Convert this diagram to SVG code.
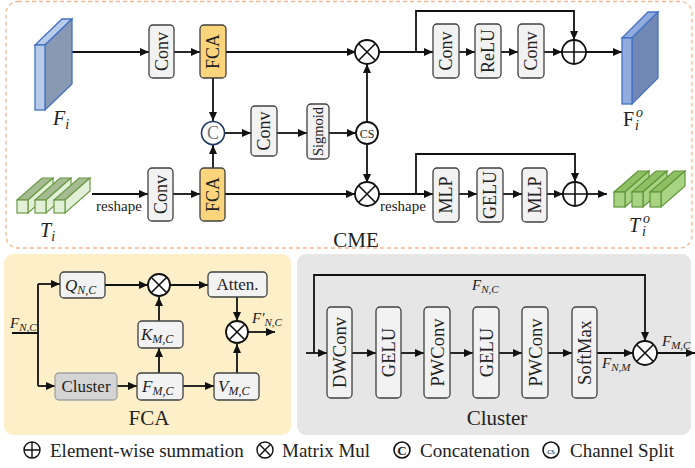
<svg xmlns="http://www.w3.org/2000/svg" width="695" height="468" viewBox="0 0 695 468" font-family="'Liberation Serif', 'Times New Roman', serif">
  <defs>
    <marker id="ah" viewBox="0 0 9 8" refX="9" refY="4" markerWidth="9" markerHeight="8" markerUnits="userSpaceOnUse" orient="auto">
      <path d="M0,0 L9,4 L0,8 z" fill="#111"/>
    </marker>
    <style>
      .t { font-family: "Liberation Serif", "Times New Roman", serif; fill: #222; }
      .i { font-style: italic; }
      .box { fill: #f2f2f2; stroke: #404040; stroke-width: 1.3; }
      .fca { fill: #fbd57c; stroke: #404040; stroke-width: 1.3; }
      .clu { fill: #d4d4d4; stroke: #a0a0a0; stroke-width: 1.3; }
      .ln { fill: none; stroke: #111; stroke-width: 1.8; }
      .ar { fill: none; stroke: #111; stroke-width: 1.8; marker-end: url(#ah); }
      .op { fill: #fff; stroke: #111; stroke-width: 1.8; }
      .opt { fill: none; stroke: #111; stroke-width: 1.6; }
      .vl { font-size: 18px; }
      .lg { font-size: 19px; }
    </style>
  </defs>

  <!-- panels -->
  <rect x="6" y="1.5" width="686" height="246.5" rx="12" fill="none" stroke="#f4b894" stroke-width="1.3" stroke-dasharray="4,3"/>
  <rect x="4" y="254" width="287" height="181" rx="9" fill="#fdf0c9"/>
  <rect x="297" y="254" width="394" height="181" rx="9" fill="#e6e6e6"/>

  <!-- connectors -->
  <g id="connectors">
    <!-- CME top row -->
    <path class="ar" d="M72,52 H149"/>
    <path class="ar" d="M174,52 H200"/>
    <path class="ar" d="M226,52 H356"/>
    <path class="ar" d="M213,78 V121"/>
    <path class="ar" d="M224,133 H251"/>
    <path class="ar" d="M277,133 H307"/>
    <path class="ar" d="M329,133 H356"/>
    <path class="ar" d="M367,122 V64"/>
    <path class="ar" d="M367,144 V183"/>
    <path class="ar" d="M379,52 H433"/>
    <path class="ar" d="M416,52 V11 H574 V40"/>
    <path class="ar" d="M459,52 H475"/>
    <path class="ar" d="M501,52 H518"/>
    <path class="ar" d="M544,52 H562"/>
    <path class="ar" d="M586,52 H622"/>
    <!-- CME bottom row -->
    <path class="ar" d="M92,194 H148"/>
    <path class="ar" d="M173,194 H200"/>
    <path class="ar" d="M213,168 V145"/>
    <path class="ar" d="M225,194 H355"/>
    <path class="ar" d="M378,194 H433"/>
    <path class="ar" d="M416,194 V154 H575 V182"/>
    <path class="ar" d="M459,194 H477"/>
    <path class="ar" d="M503,194 H522"/>
    <path class="ar" d="M547,194 H563"/>
    <path class="ar" d="M587,194 H607"/>
    <!-- FCA detail -->
    <path class="ln" d="M12,333 H38 M38,284 V386"/>
    <path class="ar" d="M38,284 H60"/>
    <path class="ar" d="M38,386 H55"/>
    <path class="ar" d="M105,285 H148"/>
    <path class="ar" d="M170,285 H208"/>
    <path class="ar" d="M159,321 V297"/>
    <path class="ar" d="M159,373 V348"/>
    <path class="ar" d="M117,386 H137"/>
    <path class="ar" d="M183,386 H214"/>
    <path class="ar" d="M237,297 V321"/>
    <path class="ar" d="M237,373 V344"/>
    <path class="ar" d="M248,332 H275"/>
    <!-- Cluster detail -->
    <path class="ar" d="M306,353 H327"/>
    <path class="ar" d="M314,353 V275 H645 V341"/>
    <path class="ar" d="M352,353 H376"/>
    <path class="ar" d="M401,353 H424"/>
    <path class="ar" d="M450,353 H473"/>
    <path class="ar" d="M499,353 H522"/>
    <path class="ar" d="M548,353 H572"/>
    <path class="ar" d="M597,353 H633"/>
    <path class="ar" d="M657,353 H695"/>
  </g>

  <!-- input feature map F_i -->
  <g id="Fi">
    <polygon points="35,45 62,19 72,19 45,45" fill="#b8cbe9" stroke="#4472c4" stroke-width="1.3"/>
    <polygon points="45,45 72,19 72,84 45,110" fill="#8899b4" stroke="#4472c4" stroke-width="1.3"/>
    <rect x="35" y="45" width="10" height="65" fill="#b8cbe9" stroke="#4472c4" stroke-width="1.3"/>
    <text class="t i" x="53" y="125" font-size="20">F<tspan font-size="14" dy="4">i</tspan></text>
  </g>

  <!-- output feature map F_i^o -->
  <g id="Fo">
    <polygon points="622,38 648,12 658,12 632,38" fill="#90abdc" stroke="#4472c4" stroke-width="1.3"/>
    <polygon points="632,38 658,12 658,78 632,104" fill="#7188b4" stroke="#4472c4" stroke-width="1.3"/>
    <rect x="622" y="38" width="10" height="66" fill="#90abdc" stroke="#4472c4" stroke-width="1.3"/>
    <text class="t" x="623" y="126" font-size="20">F</text>
    <text class="t i" x="635" y="130" font-size="14">i</text>
    <text class="t i" x="636" y="117" font-size="14">o</text>
  </g>

  <!-- input tokens T_i -->
  <g id="Ti" stroke="#6b9a45" stroke-width="1.2">
    <polygon points="17,200 42,178 53,178 28,200" fill="#a7bb92"/>
    <polygon points="28,200 53,178 53,191 28,213" fill="#e3f0d8"/>
    <rect x="17" y="200" width="11" height="13" fill="#e3f0d8"/>
    <polygon points="35,200 60,178 71,178 46,200" fill="#a7bb92"/>
    <polygon points="46,200 71,178 71,191 46,213" fill="#e3f0d8"/>
    <rect x="35" y="200" width="11" height="13" fill="#e3f0d8"/>
    <polygon points="54,200 79,178 90,178 65,200" fill="#a7bb92"/>
    <polygon points="65,200 90,178 90,191 65,213" fill="#e3f0d8"/>
    <rect x="54" y="200" width="11" height="13" fill="#e3f0d8"/>
    <text class="t i" x="40" y="237" font-size="20" stroke="none">T<tspan font-size="14" dy="4">i</tspan></text>
  </g>
  <text class="t" x="96" y="211" font-size="15">reshape</text>

  <!-- output tokens T_i^o -->
  <g id="To" stroke="#5e9638" stroke-width="1.2">
    <polygon points="614,192 638,171 649,171 625,192" fill="#8fbf64"/>
    <polygon points="625,192 649,171 649,186 625,207" fill="#a8d383"/>
    <rect x="614" y="192" width="11" height="15" fill="#a8d383"/>
    <polygon points="632,192 656,171 667,171 643,192" fill="#8fbf64"/>
    <polygon points="643,192 667,171 667,186 643,207" fill="#a8d383"/>
    <rect x="632" y="192" width="11" height="15" fill="#a8d383"/>
    <polygon points="650,192 674,171 685,171 661,192" fill="#8fbf64"/>
    <polygon points="661,192 685,171 685,186 661,207" fill="#a8d383"/>
    <rect x="650" y="192" width="11" height="15" fill="#a8d383"/>
  </g>
  <text class="t i" x="629" y="232" font-size="20">T</text>
  <text class="t i" x="642" y="236" font-size="14">i</text>
  <text class="t i" x="643" y="223" font-size="14">o</text>

  <!-- CME blocks -->
  <g id="conv1"><rect class="box" x="149" y="25" width="25" height="53" rx="4"/><text class="t vl" transform="translate(161.5,51.5) rotate(-90)" text-anchor="middle" dy="6">Conv</text></g>
  <g id="fca1"><rect class="fca" x="200" y="25" width="26" height="53" rx="4"/><text class="t vl" transform="translate(213,51.5) rotate(-90)" text-anchor="middle" dy="6">FCA</text></g>
  <g id="concat"><circle cx="213" cy="133" r="11.5" fill="#fff" stroke="#1f3864" stroke-width="1.6"/><text class="t" x="213" y="139" font-size="18" text-anchor="middle" style="fill:#777">C</text></g>
  <g id="conv2"><rect class="box" x="251" y="106" width="26" height="50" rx="4"/><text class="t vl" transform="translate(264,131) rotate(-90)" text-anchor="middle" dy="6">Conv</text></g>
  <g id="sigmoid"><rect class="box" x="307" y="104" width="22" height="55" rx="4"/><text class="t" font-size="14.5" transform="translate(318,131.5) rotate(-90)" text-anchor="middle" dy="5">Sigmoid</text></g>
  <g id="split"><circle class="op" cx="367" cy="133" r="11"/><text class="t" x="367" y="137.5" font-size="12" text-anchor="middle">CS</text></g>
  <g id="mul1"><circle class="op" cx="367" cy="52" r="12"/><path class="opt" d="M358.5,43.5 L375.5,60.5 M375.5,43.5 L358.5,60.5"/></g>
  <g id="conv3"><rect class="box" x="433" y="24" width="26" height="54" rx="4"/><text class="t vl" transform="translate(446,51) rotate(-90)" text-anchor="middle" dy="6">Conv</text></g>
  <g id="relu"><rect class="box" x="475" y="24" width="26" height="54" rx="4"/><text class="t vl" transform="translate(488,51) rotate(-90)" text-anchor="middle" dy="6">ReLU</text></g>
  <g id="conv4"><rect class="box" x="518" y="24" width="26" height="54" rx="4"/><text class="t vl" transform="translate(531,51) rotate(-90)" text-anchor="middle" dy="6">Conv</text></g>
  <g id="add1"><circle class="op" cx="574" cy="52" r="12"/><path class="opt" d="M562,52 H586 M574,40 V64"/></g>

  <g id="conv5"><rect class="box" x="148" y="168" width="25" height="53" rx="4"/><text class="t vl" transform="translate(160.5,194.5) rotate(-90)" text-anchor="middle" dy="6">Conv</text></g>
  <g id="fca2"><rect class="fca" x="200" y="168" width="25" height="53" rx="4"/><text class="t vl" transform="translate(212.5,194.5) rotate(-90)" text-anchor="middle" dy="6">FCA</text></g>
  <g id="mul2"><circle class="op" cx="367" cy="194" r="12"/><path class="opt" d="M358.5,185.5 L375.5,202.5 M375.5,185.5 L358.5,202.5"/></g>
  <text class="t" x="380" y="211" font-size="15">reshape</text>
  <g id="mlp1"><rect class="box" x="433" y="168" width="26" height="54" rx="4"/><text class="t vl" transform="translate(446,195) rotate(-90)" text-anchor="middle" dy="6">MLP</text></g>
  <g id="gelu1"><rect class="box" x="477" y="168" width="26" height="54" rx="4"/><text class="t vl" transform="translate(490,195) rotate(-90)" text-anchor="middle" dy="6">GELU</text></g>
  <g id="mlp2"><rect class="box" x="522" y="168" width="25" height="54" rx="4"/><text class="t vl" transform="translate(534.5,195) rotate(-90)" text-anchor="middle" dy="6">MLP</text></g>
  <g id="add2"><circle class="op" cx="575" cy="194" r="12"/><path class="opt" d="M563,194 H587 M575,182 V206"/></g>

  <text class="t" x="356" y="247" font-size="21" text-anchor="middle">CME</text>

  <!-- FCA detail -->
  <text class="t i" x="10" y="328" font-size="15">F<tspan font-size="11" dy="3">N,C</tspan></text>
  <g id="q"><rect class="box" x="60" y="272" width="45" height="26" rx="4"/><text class="t i" x="65" y="291" font-size="17">Q<tspan font-size="12" dy="3">N,C</tspan></text></g>
  <g id="mul3"><circle class="op" cx="159" cy="285" r="11"/><path class="opt" d="M151.2,277.2 L166.8,292.8 M166.8,277.2 L151.2,292.8"/></g>
  <g id="atten"><rect class="box" x="208" y="272" width="59" height="25" rx="4"/><text class="t" x="237.5" y="290" font-size="17" text-anchor="middle">Atten.</text></g>
  <g id="k"><rect class="box" x="138" y="321" width="45" height="27" rx="4"/><text class="t i" x="141" y="340" font-size="17">K<tspan font-size="12" dy="3">M,C</tspan></text></g>
  <g id="mul4"><circle class="op" cx="237" cy="332" r="11"/><path class="opt" d="M229.2,324.2 L244.8,339.8 M244.8,324.2 L229.2,339.8"/></g>
  <text class="t i" x="252" y="323" font-size="15">F′<tspan font-size="11" dy="3">N,C</tspan></text>
  <g id="cluster-box"><rect class="clu" x="55" y="373" width="62" height="27" rx="4"/><text class="t" x="86" y="392" font-size="17" text-anchor="middle">Cluster</text></g>
  <g id="fmc"><rect class="box" x="137" y="373" width="46" height="27" rx="4"/><text class="t i" x="142" y="392" font-size="17">F<tspan font-size="12" dy="3">M,C</tspan></text></g>
  <g id="v"><rect class="box" x="214" y="373" width="45" height="27" rx="4"/><text class="t i" x="218" y="392" font-size="17">V<tspan font-size="12" dy="3">M,C</tspan></text></g>
  <text class="t" x="149" y="425" font-size="21" text-anchor="middle">FCA</text>

  <!-- Cluster detail -->
  <text class="t i" x="472" y="290" font-size="15">F<tspan font-size="11" dy="3">N,C</tspan></text>
  <g id="dwconv"><rect class="box" x="327" y="307" width="25" height="91" rx="4"/><text class="t" font-size="18.5" transform="translate(339.5,352.5) rotate(-90)" text-anchor="middle" dy="6.5">DWConv</text></g>
  <g id="gelu2"><rect class="box" x="376" y="307" width="25" height="91" rx="4"/><text class="t" font-size="18.5" transform="translate(388.5,352.5) rotate(-90)" text-anchor="middle" dy="6.5">GELU</text></g>
  <g id="pwconv1"><rect class="box" x="424" y="307" width="26" height="91" rx="4"/><text class="t" font-size="18.5" transform="translate(437,352.5) rotate(-90)" text-anchor="middle" dy="6.5">PWConv</text></g>
  <g id="gelu3"><rect class="box" x="473" y="307" width="26" height="91" rx="4"/><text class="t" font-size="18.5" transform="translate(486,352.5) rotate(-90)" text-anchor="middle" dy="6.5">GELU</text></g>
  <g id="pwconv2"><rect class="box" x="522" y="307" width="26" height="91" rx="4"/><text class="t" font-size="18.5" transform="translate(535,352.5) rotate(-90)" text-anchor="middle" dy="6.5">PWConv</text></g>
  <g id="softmax"><rect class="box" x="572" y="307" width="25" height="91" rx="4"/><text class="t" font-size="18.5" transform="translate(584.5,352.5) rotate(-90)" text-anchor="middle" dy="6.5">SoftMax</text></g>
  <g id="mul5"><circle class="op" cx="645" cy="353" r="12"/><path class="opt" d="M636.5,344.5 L653.5,361.5 M653.5,344.5 L636.5,361.5"/></g>
  <text class="t i" x="602" y="368" font-size="15">F<tspan font-size="11" dy="3">N,M</tspan></text>
  <text class="t i" x="662" y="346" font-size="15">F<tspan font-size="11" dy="3">M,C</tspan></text>
  <text class="t" x="497" y="425" font-size="21" text-anchor="middle">Cluster</text>

  <!-- legend -->
  <g id="legend">
    <circle cx="32" cy="450" r="8" fill="none" stroke="#111" stroke-width="1.4"/>
    <path d="M24,450 H40 M32,442 V458" stroke="#111" stroke-width="1.4"/>
    <text class="t lg" x="50" y="457">Element-wise summation</text>
    <circle cx="265" cy="450" r="8" fill="none" stroke="#111" stroke-width="1.4"/>
    <path d="M259.3,444.3 L270.7,455.7 M270.7,444.3 L259.3,455.7" stroke="#111" stroke-width="1.4"/>
    <text class="t lg" x="282" y="457">Matrix Mul</text>
    <circle cx="402" cy="450" r="8" fill="none" stroke="#111" stroke-width="1.6"/>
    <text class="t" x="402" y="455" font-size="13" text-anchor="middle" font-weight="bold">C</text>
    <text class="t lg" x="420" y="457">Concatenation</text>
    <circle cx="551" cy="450" r="8" fill="none" stroke="#111" stroke-width="1.6"/>
    <text class="t" x="551" y="453.5" font-size="9" text-anchor="middle">cs</text>
    <text class="t lg" x="570" y="457">Channel Split</text>
  </g>
</svg>
